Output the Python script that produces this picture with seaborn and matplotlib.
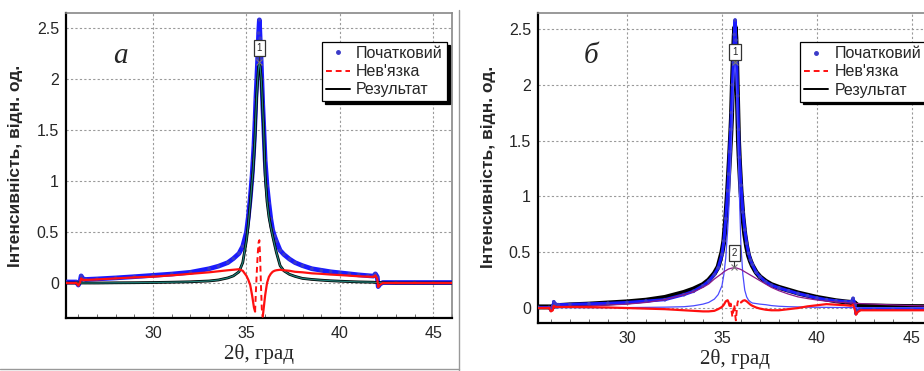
import matplotlib
matplotlib.use("Agg")
import matplotlib.pyplot as plt
from matplotlib.lines import Line2D
from matplotlib.ticker import FormatStrFormatter, MultipleLocator
import seaborn as sns
import pandas as pd

# ---------------- data ----------------
two_theta = [25.35, 25.9, 26.0, 26.1, 26.15, 26.25, 26.4, 27.0, 28.0, 29.0,
             30.0, 31.0, 32.0, 33.0, 33.5, 34.0, 34.3, 34.6, 34.8, 35.0,
             35.1, 35.2, 35.3, 35.35, 35.4, 35.46, 35.5, 35.55, 35.6, 35.65,
             35.69, 35.73, 35.78, 35.82, 35.87, 35.92, 36.0, 36.1, 36.2, 36.3,
             36.4, 36.5, 36.6, 36.8, 37.0, 37.3, 37.6, 38.0, 38.5, 39.0,
             39.5, 40.0, 40.5, 41.0, 41.5, 41.8, 41.9, 42.0, 42.05, 42.15,
             42.3, 43.0, 44.0, 45.0, 46.0]

# panel a
data_a = [0.01, 0.01, -0.02, 0.02, 0.07, 0.04, 0.035, 0.04, 0.05, 0.062,
          0.075, 0.088, 0.105, 0.14, 0.165, 0.2, 0.24, 0.29, 0.36, 0.5,
          0.65, 0.83, 1.05, 1.2, 1.35, 1.6, 1.8, 2.0, 2.2, 2.45,
          2.58, 2.4, 2.2, 2.0, 1.75, 1.55, 1.2, 0.95, 0.78, 0.63,
          0.52, 0.46, 0.41, 0.32, 0.28, 0.235, 0.2, 0.17, 0.14, 0.125,
          0.11, 0.1, 0.09, 0.08, 0.072, 0.068, 0.09, 0.06, -0.035, -0.01,
          0.005, 0.005, 0.005, 0.005, 0.005]
fit_a = [0.0, 0.0, 0.0, 0.0, 0.0, 0.0, 0.0, 0.0, 0.002, 0.003,
         0.005, 0.008, 0.012, 0.02, 0.03, 0.05, 0.07, 0.11, 0.2, 0.42,
         0.58, 0.78, 1.0, 1.1, 1.25, 1.45, 1.65, 1.85, 2.0, 2.12,
         2.15, 2.12, 2.02, 1.9, 1.7, 1.5, 1.05, 0.8, 0.65, 0.55,
         0.46, 0.38, 0.3, 0.17, 0.12, 0.085, 0.065, 0.045, 0.035, 0.028,
         0.022, 0.018, 0.014, 0.011, 0.009, 0.008, 0.006, 0.005, 0.004, 0.003,
         0.002, 0.0, 0.0, 0.0, 0.0]
resid_a = [0.0, 0.0, -0.025, 0.01, 0.045, 0.03, 0.03, 0.035, 0.045, 0.055,
           0.062, 0.075, 0.09, 0.105, 0.115, 0.125, 0.13, 0.135, 0.12, 0.07,
           0.03, -0.02, -0.12, -0.18, -0.24, -0.28, -0.1, 0.1, 0.28, 0.4,
           0.42, 0.25, -0.05, -0.25, -0.33, -0.25, -0.12, 0.0, 0.06, 0.09,
           0.11, 0.12, 0.125, 0.13, 0.125, 0.12, 0.11, 0.105, 0.095, 0.09,
           0.083, 0.078, 0.072, 0.066, 0.062, 0.06, 0.075, 0.04, -0.04, -0.015,
           0.0, 0.0, 0.0, 0.0, 0.0]

# panel b
data_b = [0.005, 0.005, -0.02, 0.02, 0.056, 0.035, 0.03, 0.033, 0.038, 0.042,
          0.05, 0.062, 0.075, 0.12, 0.15, 0.2, 0.24, 0.3, 0.36, 0.48,
          0.6, 0.8, 1.05, 1.2, 1.4, 1.6, 1.75, 2.0, 2.2, 2.45,
          2.58, 2.4, 2.2, 1.9, 1.6, 1.35, 1.1, 0.86, 0.7, 0.58,
          0.49, 0.43, 0.39, 0.32, 0.28, 0.235, 0.205, 0.18, 0.155, 0.13,
          0.11, 0.09, 0.075, 0.065, 0.058, 0.056, 0.087, 0.03, -0.048, -0.02,
          -0.01, -0.01, -0.01, -0.01, -0.01]
fit_b = [0.01, 0.01, 0.01, 0.012, 0.015, 0.02, 0.022, 0.028, 0.035, 0.045,
         0.055, 0.07, 0.095, 0.14, 0.17, 0.21, 0.25, 0.31, 0.37, 0.5,
         0.6, 0.8, 1.05, 1.2, 1.35, 1.55, 1.7, 2.0, 2.25, 2.45,
         2.52, 2.42, 2.15, 1.85, 1.5, 1.3, 1.05, 0.82, 0.66, 0.55,
         0.47, 0.42, 0.38, 0.32, 0.28, 0.24, 0.21, 0.185, 0.16, 0.135,
         0.115, 0.095, 0.08, 0.065, 0.055, 0.05, 0.05, 0.045, 0.03, 0.025,
         0.02, 0.018, 0.015, 0.013, 0.012]
comp1_b = [0.002, 0.002, 0.002, 0.002, 0.002, 0.002, 0.003, 0.003, 0.003, 0.004,
           0.004, 0.006, 0.008, 0.012, 0.02, 0.035, 0.05, 0.08, 0.12, 0.2,
           0.3, 0.45, 0.7, 0.85, 1.05, 1.3, 1.5, 1.75, 1.95, 2.12,
           2.18, 2.1, 1.9, 1.65, 1.3, 1.0, 0.55, 0.3, 0.16, 0.1,
           0.07, 0.055, 0.045, 0.04, 0.035, 0.03, 0.022, 0.016, 0.012, 0.01,
           0.008, 0.007, 0.006, 0.005, 0.005, 0.004, 0.004, 0.004, 0.004, 0.004,
           0.003, 0.003, 0.003, 0.003, 0.003]
comp2_b = [0.005, 0.007, 0.008, 0.008, 0.009, 0.009, 0.01, 0.015, 0.02, 0.027,
           0.035, 0.05, 0.075, 0.12, 0.145, 0.185, 0.215, 0.26, 0.285, 0.31,
           0.325, 0.335, 0.345, 0.35, 0.352, 0.355, 0.357, 0.358, 0.36, 0.36,
           0.36, 0.36, 0.358, 0.356, 0.353, 0.35, 0.345, 0.335, 0.325, 0.315,
           0.305, 0.295, 0.285, 0.265, 0.245, 0.215, 0.185, 0.155, 0.125, 0.1,
           0.085, 0.072, 0.062, 0.054, 0.048, 0.045, 0.044, 0.043, 0.042, 0.041,
           0.04, 0.035, 0.028, 0.022, 0.018]
resid_b = [0.0, 0.0, -0.03, -0.02, 0.02, 0.01, 0.01, 0.01, 0.008, 0.005,
           0.0, -0.005, -0.01, -0.02, -0.025, -0.03, -0.03, -0.025, -0.01, 0.01,
           0.03, 0.06, 0.07, 0.05, 0.02, 0.04, -0.02, -0.08, -0.02, 0.03,
           -0.05, -0.11, -0.02, 0.05, 0.07, 0.06, 0.05, 0.065, 0.07, 0.06,
           0.045, 0.03, 0.02, 0.005, -0.005, -0.015, -0.02, -0.02, -0.01, 0.0,
           0.015, 0.025, 0.035, 0.03, 0.025, 0.02, 0.03, -0.02, -0.06, -0.035,
           -0.02, -0.02, -0.02, -0.02, -0.02]

# peak markers (label, position, height of component)
peaks_a_labels = ["1"]
peaks_a_pos = [35.69]
peaks_a_top = [2.17]
peaks_a_box = [2.30]
peaks_b_labels = ["1", "2"]
peaks_b_pos = [35.69, 35.64]
peaks_b_top = [2.20, 0.37]
peaks_b_box = [2.29, 0.49]

panel_letters = ["а", "б"]
legend_labels = ["Початковий", "Нев'язка", "Результат"]
x_ticks = [30, 35, 40, 45]
y_ticks = [0, 0.5, 1, 1.5, 2, 2.5]
xlabel_text = "2θ, град"
ylabel_text = "Інтенсивність, відн. од."

# ---------------- figure ----------------
sns.set_style("white")
plt.rcParams["font.family"] = ["Liberation Sans", "DejaVu Sans"]

df_a = pd.DataFrame({"x": two_theta, "data": data_a, "fit": fit_a, "resid": resid_a})
df_b = pd.DataFrame({"x": two_theta, "data": data_b, "fit": fit_b, "c1": comp1_b,
                     "c2": comp2_b, "resid": resid_b})

fig = plt.figure(figsize=(9.24, 3.71), dpi=100)
ax_a = fig.add_axes([66 / 924, 1 - 318 / 371, 386 / 924, 305 / 371])
ax_b = fig.add_axes([538 / 924, 1 - 323 / 371, 393 / 924, 310 / 371])

BLUE = "#1a1aff"
DOT = "#3a3ac8"
RED = "#ff1010"
TEAL = "#1f7f78"

def red_split(ax, df, lo, hi):
    outer_l = df[df.x <= lo]
    outer_r = df[df.x >= hi]
    mid = df[(df.x >= lo) & (df.x <= hi)]
    for part in (outer_l, outer_r):
        sns.lineplot(data=part, x="x", y="resid", ax=ax, color=RED, lw=1.6,
                     estimator=None, sort=False, zorder=6)
    sns.lineplot(data=mid, x="x", y="resid", ax=ax, color=RED, lw=1.4,
                 estimator=None, sort=False, zorder=6, dashes=False,
                 linestyle=(0, (3, 2)))

# panel a
sns.lineplot(data=df_a, x="x", y="data", ax=ax_a, color=BLUE, lw=3.4,
             estimator=None, sort=False, zorder=3)
sns.scatterplot(data=df_a, x="x", y="data", ax=ax_a, color=DOT, s=7,
                edgecolor="none", zorder=4)
sns.lineplot(data=df_a, x="x", y="fit", ax=ax_a, color="black", lw=2.0,
             estimator=None, sort=False, zorder=5)
sns.lineplot(data=df_a, x="x", y="fit", ax=ax_a, color=TEAL, lw=0.9,
             estimator=None, sort=False, zorder=5)
red_split(ax_a, df_a, 35.46, 35.87)

# panel b
sns.lineplot(data=df_b, x="x", y="fit", ax=ax_b, color="black", lw=3.6,
             estimator=None, sort=False, zorder=3)
sns.lineplot(data=df_b, x="x", y="data", ax=ax_b, color=BLUE, lw=2.2,
             estimator=None, sort=False, zorder=4)
sns.scatterplot(data=df_b, x="x", y="data", ax=ax_b, color=DOT, s=7,
                edgecolor="none", zorder=4)
sns.lineplot(data=df_b, x="x", y="c1", ax=ax_b, color="#4a4aff", lw=0.9,
             estimator=None, sort=False, zorder=5)
sns.lineplot(data=df_b, x="x", y="c2", ax=ax_b, color="#8a1a8a", lw=0.9,
             estimator=None, sort=False, zorder=5)
red_split(ax_b, df_b, 35.4, 35.95)

def peak_boxes(ax, labels, pos, top, box):
    for lab, xp, yt, yb in zip(labels, pos, top, box):
        ax.plot([xp, xp], [yt, yb], color="#333333", lw=0.8, zorder=7)
        ax.plot([xp], [yt], marker="x", ms=5, color="#777777", mew=0.8, zorder=7)
        ax.text(xp, yb, lab, fontsize=7, ha="center", va="center", zorder=8,
                bbox=dict(boxstyle="square,pad=0.3", fc="white", ec="#333333", lw=0.9))

peak_boxes(ax_a, peaks_a_labels, peaks_a_pos, peaks_a_top, peaks_a_box)
peak_boxes(ax_b, peaks_b_labels, peaks_b_pos, peaks_b_top, peaks_b_box)

handles = [Line2D([], [], ls="none", marker="o", ms=2.5, color=DOT),
           Line2D([], [], ls=(0, (3, 2)), lw=1.4, color=RED),
           Line2D([], [], ls="-", lw=1.4, color="black")]

for ax, ylim, xlim, letter, lpos, leg_loc, leg_anchor in [
        (ax_a, (-0.343, 2.647), (25.34, 46.0), panel_letters[0], (0.14, 0.86),
         "upper right", (0.987, 0.905)),
        (ax_b, (-0.134, 2.643), (25.32, 46.0), panel_letters[1], (0.135, 0.86),
         "upper left", (0.667, 0.906))]:
    ax.set_xlim(*xlim)
    ax.set_ylim(*ylim)
    ax.set_xticks(x_ticks)
    ax.set_yticks(y_ticks)
    ax.xaxis.set_minor_locator(MultipleLocator(1))
    ax.yaxis.set_major_formatter(FormatStrFormatter("%g"))
    ax.grid(True, which="major", ls=(0, (2, 2)), color="#9a9a9a", lw=0.8)
    ax.tick_params(axis="both", which="major", direction="in", length=3,
                   labelsize=11.5, pad=5, color="#555555")
    ax.tick_params(axis="x", which="minor", direction="in", length=3, color="#555555",
                   bottom=True)
    ax.tick_params(axis="x", pad=6)
    for side in ("left", "bottom"):
        ax.spines[side].set_color("black")
        ax.spines[side].set_linewidth(1.6)
    for side in ("top", "right"):
        ax.spines[side].set_color("#888888")
        ax.spines[side].set_linewidth(1.2)
    ax.set_xlabel(xlabel_text, family=["Liberation Serif", "DejaVu Serif"],
                  fontsize=15, labelpad=2)
    ax.set_ylabel(ylabel_text, fontsize=12.5, fontweight="bold")
    ax.text(*lpos, letter, transform=ax.transAxes, fontsize=21, style="italic",
            family=["Liberation Serif", "DejaVu Serif"], ha="center", va="center")
    leg = ax.legend(handles, legend_labels, loc=leg_loc, bbox_to_anchor=leg_anchor,
                    fontsize=11.5, frameon=True, fancybox=False, handlelength=1.5,
                    handletextpad=0.4, borderpad=0.25, labelspacing=0.2,
                    borderaxespad=0, shadow={"color": "black", "alpha": 1.0})
    leg.get_frame().set_edgecolor("black")
    leg.get_frame().set_linewidth(0.9)
    leg.set_zorder(10)

ax_a.yaxis.set_label_coords(-0.111, 0.498)
ax_b.yaxis.set_label_coords(-0.107, 0.503)

# separator lines of the composite picture
fig.add_artist(Line2D([459 / 924, 459 / 924], [0, 1 - 10 / 371], color="#999999", lw=1.0))
fig.add_artist(Line2D([0, 459 / 924], [1 - 369 / 371, 1 - 369 / 371], color="#999999", lw=1.0))

fig.savefig("out.png", dpi=100)
